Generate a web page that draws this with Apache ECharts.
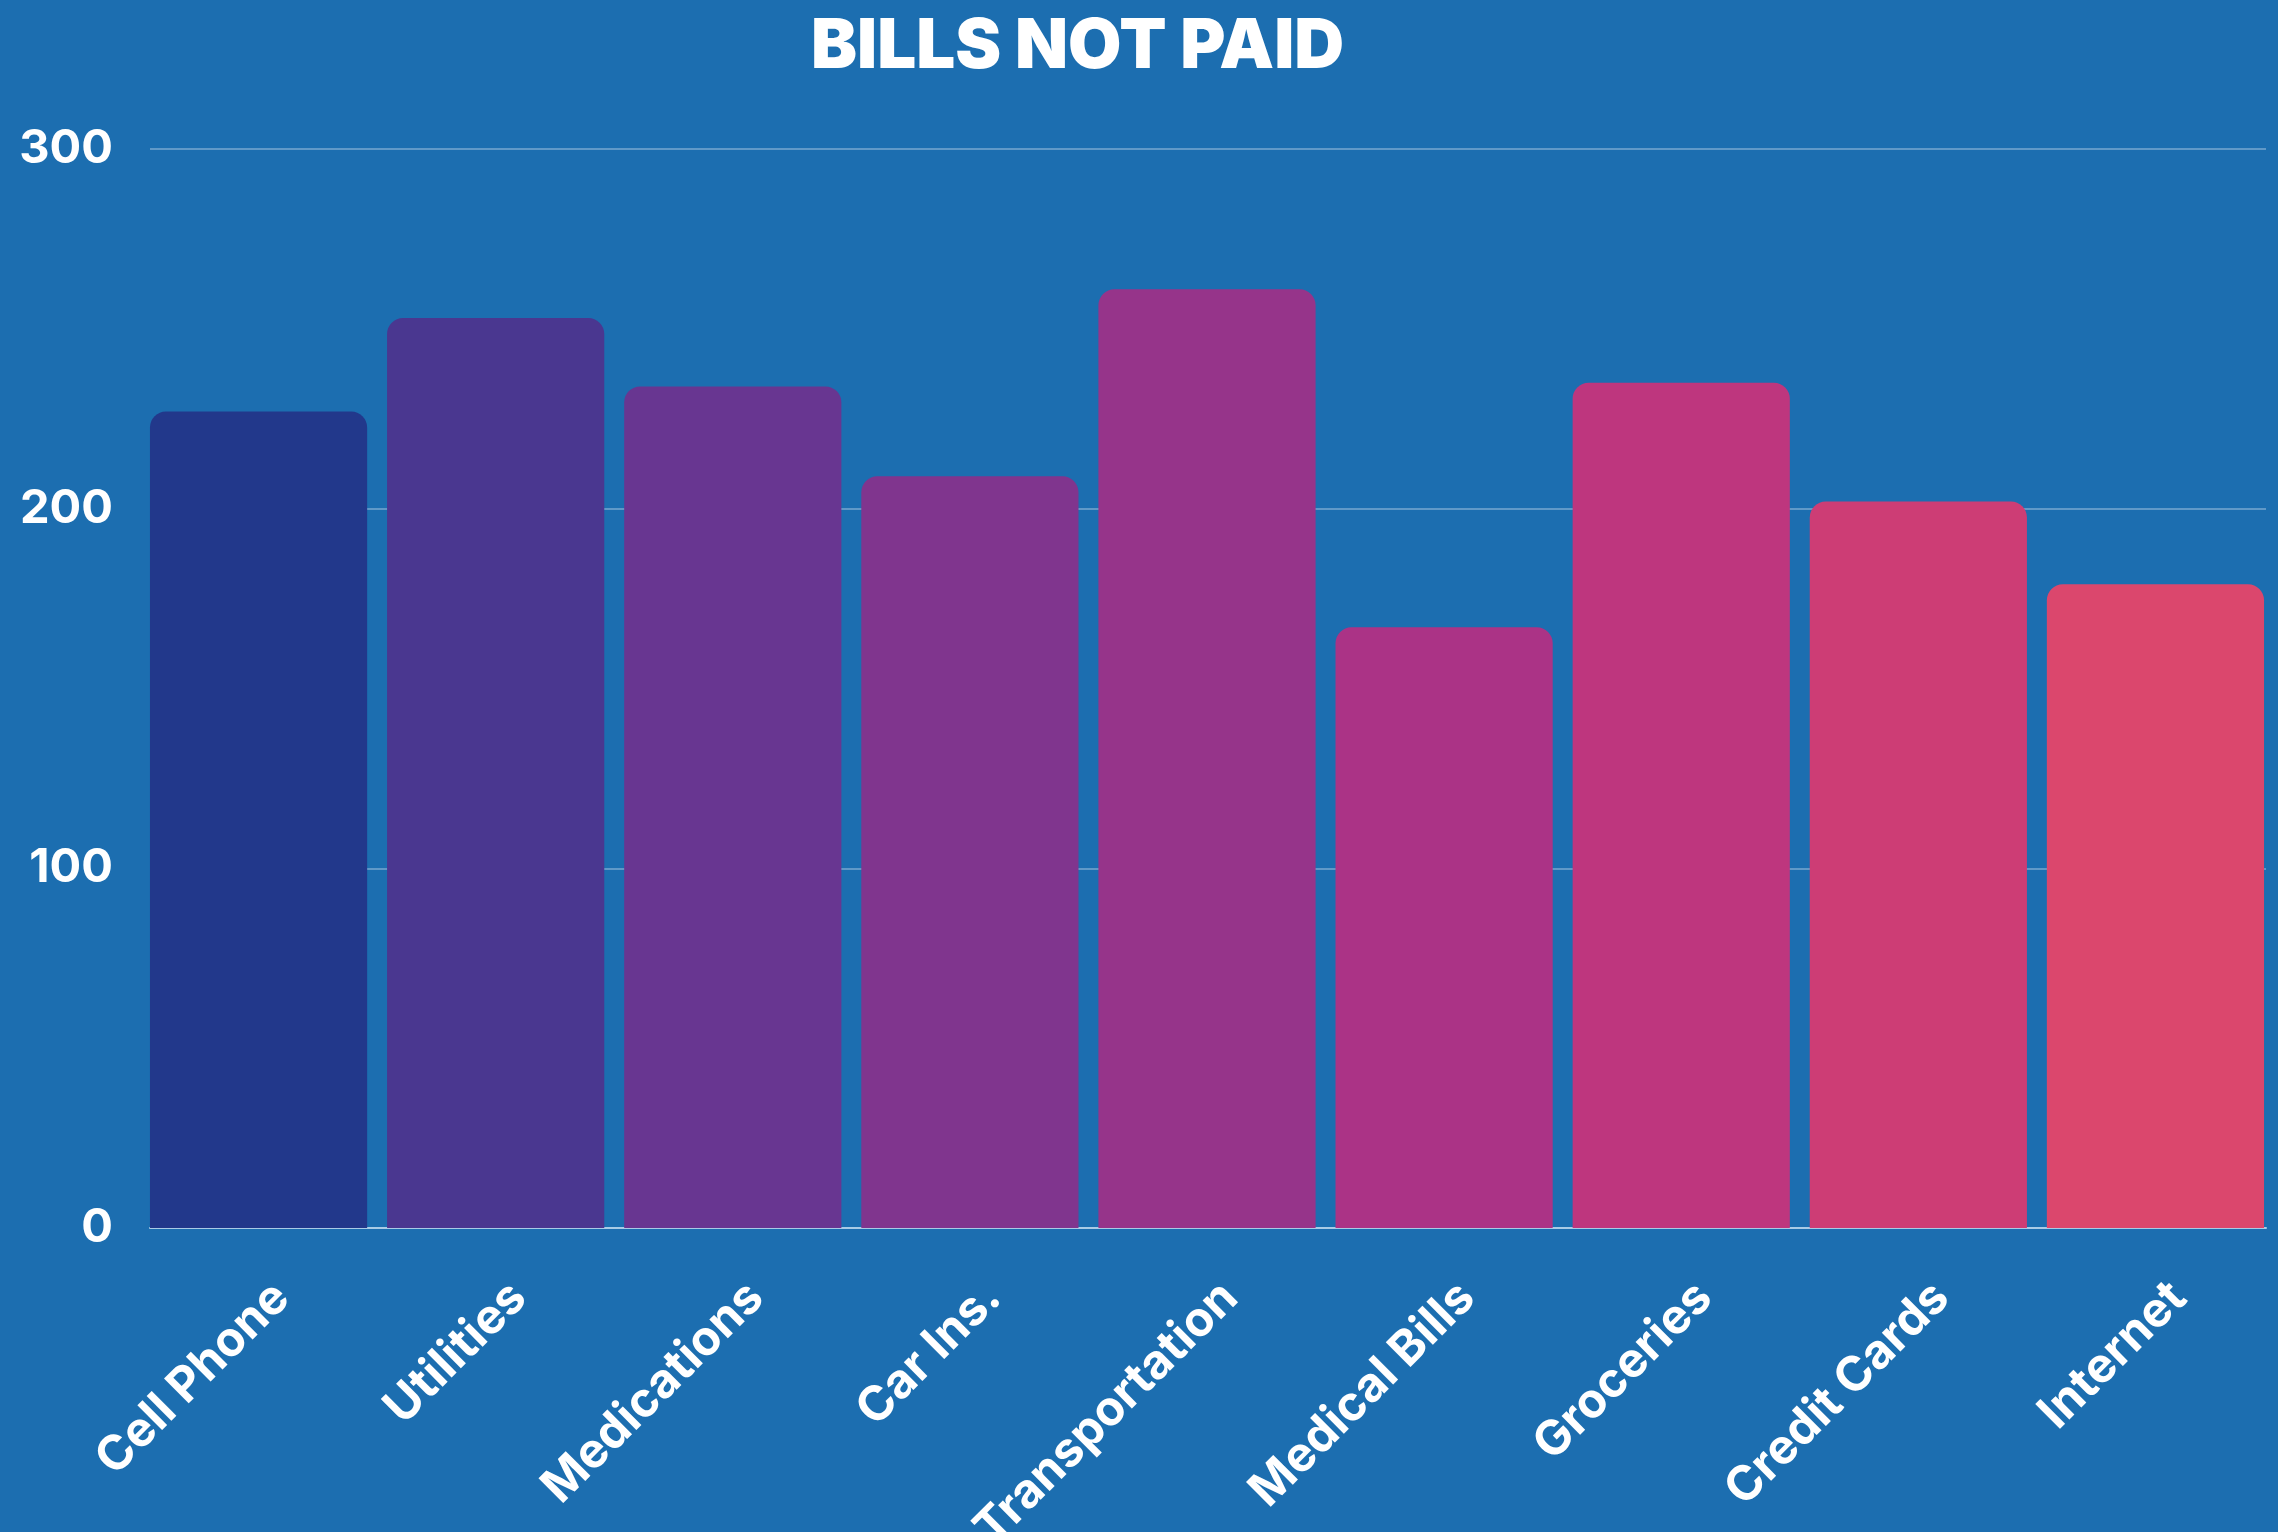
<!DOCTYPE html>
<html>
<head>
<meta charset="utf-8">
<script src="https://cdn.jsdelivr.net/npm/echarts@6/dist/echarts.min.js"></script>
<style>
  html, body { margin: 0; padding: 0; background: #1c6eb0; }
  #ch1 { width: 2278px; height: 1532px; }
</style>
</head>
<body>
<div id="ch1"></div>
<script>
var categories = ['Cell Phone', 'Utilities', 'Medications', 'Car Ins.', 'Transportation', 'Medical Bills', 'Groceries', 'Credit Cards', 'Internet'];
var billsNotPaid = [227, 253, 234, 209, 261, 167, 235, 202, 179];
var yTicks = [0, 100, 200, 300];

var barColors = ['#22388b', '#4a3790', '#683691', '#80358e', '#96348a', '#ab3386', '#be367e', '#cd3d75', '#db476d'];

window.onload = function() {
  var ch1 = echarts.init(document.getElementById('ch1'));
  var yMin = yTicks[0], yMax = yTicks[yTicks.length - 1];
  var op1 = {
    backgroundColor: '#1c6eb0',
    title: {
      text: 'BILLS NOT PAID',
      left: 806,
      top: 8,
      textStyle: {
        color: '#fff',
        fontFamily: 'Inter',
        fontWeight: 900,
        fontSize: 69
      }
    },
    // grid 0: gridlines + y labels, grid 1: bars (no outer gap), grid 2: x labels
    grid: [
      { left: 150, right: 12, top: 149, bottom: 304, outerBoundsMode: 'none' },
      { left: 140, right: 4, top: 149, bottom: 304, outerBoundsMode: 'none' },
      { left: 163, right: -19, top: 149, bottom: 304, outerBoundsMode: 'none' }
    ],
    xAxis: [{
      gridIndex: 0,
      type: 'category',
      data: categories,
      axisTick: { show: false },
      axisLabel: { show: false },
      axisLine: {
        lineStyle: { color: '#a9cbe6', width: 2 }
      }
    }, {
      gridIndex: 1,
      type: 'category',
      data: categories,
      show: false
    }, {
      gridIndex: 2,
      type: 'category',
      data: categories,
      axisTick: { show: false },
      axisLine: { show: false },
      axisLabel: {
        rotate: 45,
        margin: 62,
        interval: 0,
        color: '#fff',
        fontFamily: 'Inter',
        fontWeight: 700,
        fontSize: 48
      }
    }],
    yAxis: [{
      gridIndex: 0,
      type: 'value',
      min: yMin,
      max: yMax,
      interval: 100,
      axisLine: { show: false },
      axisTick: { show: false },
      splitLine: {
        lineStyle: { color: 'rgba(255,255,255,0.3)', width: 2 }
      },
      axisLabel: {
        margin: 37,
        color: '#fff',
        fontFamily: 'Inter',
        fontWeight: 700,
        fontSize: 47
      }
    }, {
      gridIndex: 1,
      type: 'value',
      min: yMin,
      max: yMax,
      show: false
    }, {
      gridIndex: 2,
      type: 'value',
      min: yMin,
      max: yMax,
      show: false
    }],
    series: [{
      name: 'Bills not paid',
      type: 'bar',
      xAxisIndex: 1,
      yAxisIndex: 1,
      z: 3,
      data: billsNotPaid,
      barCategoryGap: '8.4%',
      itemStyle: {
        borderRadius: [16, 16, 0, 0],
        color: function(p) { return barColors[p.dataIndex]; }
      }
    }]
  };
  ch1.setOption(op1);
};
</script>
</body>
</html>
